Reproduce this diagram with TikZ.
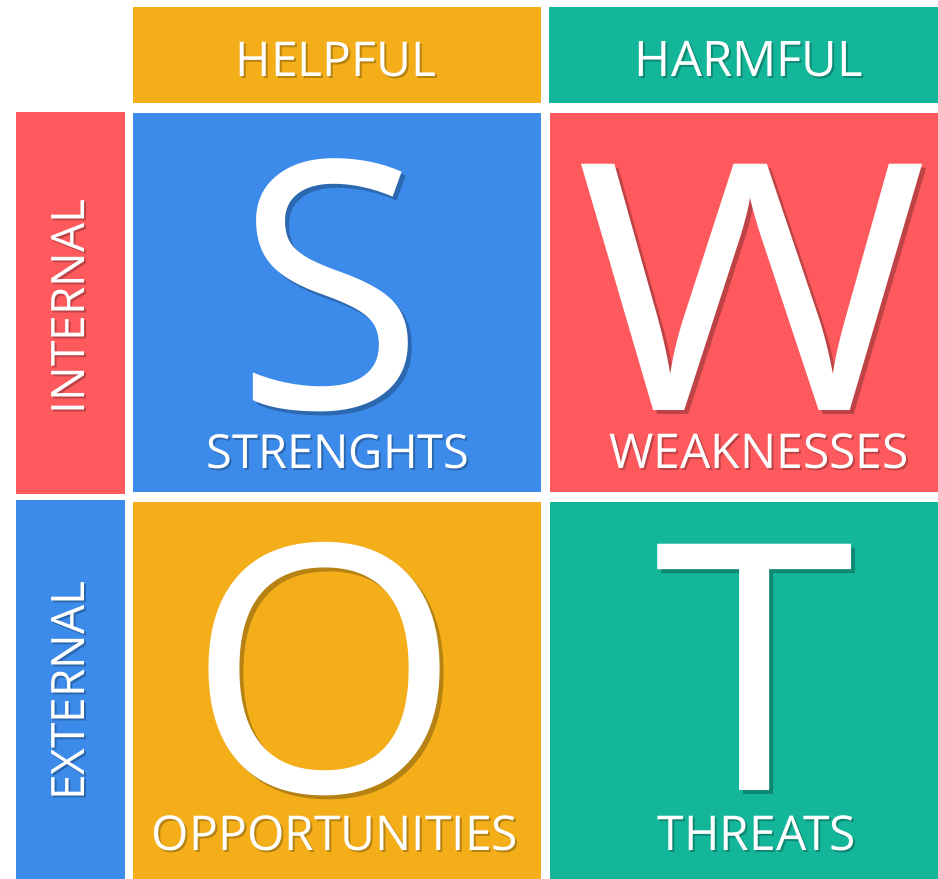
\documentclass[tikz,border=0pt]{standalone}
\usepackage{fontspec}
\setmainfont{Open Sans}
\definecolor{swotorange}{RGB}{244,174,26}
\definecolor{swotblue}{RGB}{60,139,234}
\definecolor{swotred}{RGB}{254,90,94}
\definecolor{swotteal}{RGB}{20,182,153}
\newcommand\swotsize[1]{%
  \fontsize{#1}{#1}\selectfont%
}

\begin{document}
\begin{tikzpicture}[x=1pt,y=-1pt]
  \useasboundingbox (0,0) rectangle (938,879);

  \tikzstyle{cell}=[inner sep=0pt,outer sep=0pt,anchor=north west]
  \tikzstyle{swotshade}=[inner sep=0pt,anchor=base,text=black,text opacity=0.25]
  \tikzstyle{swottext}=[inner sep=0pt,anchor=base,text=white]

  % coloured cells
  \foreach \name/\col/\x/\y/\w/\h in {
      helpful/swotorange/133/7/408/96, harmful/swotteal/549/7/389/96,
      internal/swotred/16/112/109/382, external/swotblue/16/500/109/379,
      strengths/swotblue/133/113/408/379, weaknesses/swotred/550/113/388/379,
      opportunities/swotorange/133/502/408/377, threats/swotteal/550/502/388/377}
    \node[cell,fill=\col,minimum width=\w pt,minimum height=\h pt] (\name) at (\x,\y) {};

  % big letters
  \foreach \name/\x/\y/\xs/\txt in {S/330/408/1/S, W/752/410/1.1/W, O/325/792/1.02/O, T/755/790/1.05/T} {
    \node[swotshade,xscale=\xs] (\name-sh) at (\x+4,\y+4) {\swotsize{345}\txt};
    \node[swottext,xscale=\xs] (\name) at (\x,\y) {\swotsize{345}\txt};
  }

  % headers and captions
  \foreach \name/\x/\y/\sz/\txt in {
      helpful-txt/336/76/48/HELPFUL, harmful-txt/749/76/49/HARMFUL,
      strengths-txt/338/468/47/STRENGHTS, weaknesses-txt/759/468/48/WEAKNESSES,
      opportunities-txt/335/850/48/OPPORTUNITIES, threats-txt/757/850/48/THREATS} {
    \node[swotshade] (\name-sh) at (\x+2,\y+2) {\swotsize{\sz}\txt};
    \node[swottext] (\name) at (\x,\y) {\swotsize{\sz}\txt};
  }

  % side labels
  \foreach \name/\y/\txt in {internal-txt/307/INTERNAL, external-txt/691/EXTERNAL} {
    \node[swotshade,anchor=center,rotate=90] (\name-sh) at (70,\y+2) {\swotsize{46}\txt};
    \node[swottext,anchor=center,rotate=90] (\name) at (68,\y) {\swotsize{46}\txt};
  }
\end{tikzpicture}
\end{document}
